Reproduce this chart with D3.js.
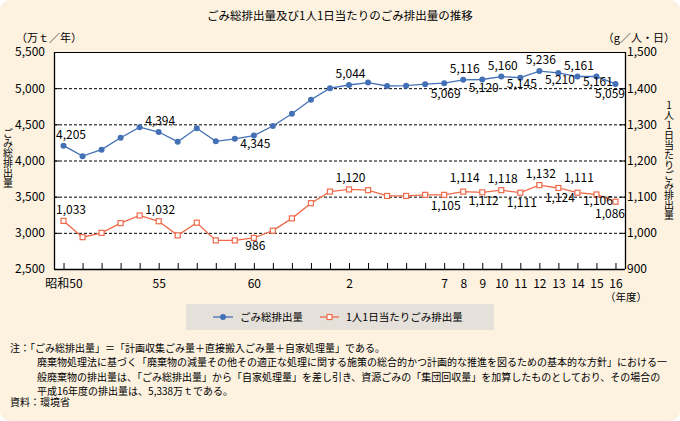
<!DOCTYPE html>
<html>
<head>
<meta charset="utf-8">
<script src="https://cdn.jsdelivr.net/npm/d3@7"></script>
<style>
  html, body { margin: 0; padding: 0; background: #ffffff; }
  svg { display: block; }
  text { font-family: 'Noto Sans CJK JP', 'Noto Sans', sans-serif; fill: #000; }
</style>
</head>
<body>
<svg id="chart" width="680" height="421"></svg>
<script>
// ---------------- data ----------------
const fiscalYears = [1975,1976,1977,1978,1979,1980,1981,1982,1983,1984,1985,1986,1987,1988,1989,
                     1990,1991,1992,1993,1994,1995,1996,1997,1998,1999,2000,2001,2002,2003,2004];
const xTickLabels = ["昭和50","","","","","55","","","","","60","","","","",
                     "2","","","","","7","8","9","10","11","12","13","14","15","16"];
// ごみ総排出量 (万t/年)
const totalWaste = [4205,4060,4150,4315,4460,4394,4260,4445,4265,4300,4345,4477,4647,4840,5000,
                    5044,5077,5030,5035,5055,5069,5116,5120,5160,5145,5236,5210,5161,5161,5059];
// 1人1日当たりごみ排出量 (g/人・日)
const perCapita = [1033,988,1000,1027,1048,1032,993,1028,979,979,986,1006,1040,1082,1114,
                   1120,1118,1102,1102,1105,1105,1114,1112,1118,1111,1132,1124,1111,1106,1086];
// labelled points: [index, "a"=above / "b"=below]
const totalLabels = [[0,"a"],[5,"a"],[10,"b"],[15,"a"],[20,"b"],[21,"a"],[22,"b"],[23,"a"],[24,"b"],[25,"a"],[26,"b"],[27,"a"],[28,"b"],[29,"b"]];
const perCapitaLabels = [[0,"a"],[5,"a"],[10,"b"],[15,"a"],[20,"b"],[21,"a"],[22,"b"],[23,"a"],[24,"b"],[25,"a"],[26,"b"],[27,"a"],[28,"b"],[29,"b"]];
const leftTicks = [2500,3000,3500,4000,4500,5000,5500];
const rightTicks = [900,1000,1100,1200,1300,1400,1500];
const seriesNames = ["ごみ総排出量","1人1日当たりごみ排出量"];
const title = "ごみ総排出量及び1人1日当たりのごみ排出量の推移";
const notes = [
  "注：「ごみ総排出量」＝「計画収集ごみ量＋直接搬入ごみ量＋自家処理量」である。",
  "廃棄物処理法に基づく「廃棄物の減量その他その適正な処理に関する施策の総合的かつ計画的な推進を図るための基本的な方針」における一",
  "般廃棄物の排出量は、「ごみ総排出量」から「自家処理量」を差し引き、資源ごみの「集団回収量」を加算したものとしており、その場合の",
  "平成16年度の排出量は、5,338万ｔである。",
  "資料：環境省"
];

// ---------------- layout ----------------
const W = 680, H = 421;
const L = 54, R = 625, T = 52, B = 269;
const BLUE = "#4471B6", RED = "#EF6A4B", BG = "#FDF2E0";
// per-label vertical nudges (layout only), keyed by point index
const totalDy = {24: 10, 26: 11, 28: 9.5, 20: 14.5, 29: 14.5};
const perDy = {20: 15, 24: 14, 26: 14, 28: 11, 29: 16, 21: -9.5, 27: -10.5};

const svg = d3.select("#chart");
svg.append("rect").attr("x",0).attr("y",0).attr("width",W).attr("height",H)
   .attr("rx",10).attr("ry",10).attr("fill",BG);

const x = d3.scalePoint().domain(fiscalYears).range([L, R]).padding(0.5);
const yL = d3.scaleLinear().domain([2500,5500]).range([B, T]);
const yR = d3.scaleLinear().domain([900,1500]).range([B, T]);

// plot background
svg.append("rect").attr("x",L).attr("y",T).attr("width",R-L).attr("height",B-T).attr("fill","#fff");

// gridlines
svg.append("g").selectAll("line").data(leftTicks.filter(v => v>2500 && v<5500)).join("line")
  .attr("x1",L).attr("x2",R).attr("y1",d=>yL(d)+0.5).attr("y2",d=>yL(d)+0.5)
  .attr("stroke","#000").attr("stroke-width",1).attr("stroke-dasharray","3,2");

// top frame
svg.append("line").attr("x1",L).attr("x2",R).attr("y1",T+0.5).attr("y2",T+0.5)
  .attr("stroke","#000").attr("stroke-width",1.2);

// axes
const fmt = d3.format(",");
const axL = svg.append("g").attr("transform",`translate(${L},0)`)
  .call(d3.axisLeft(yL).tickValues(leftTicks).tickFormat(fmt).tickSizeInner(-5).tickSizeOuter(0).tickPadding(9));
const axR = svg.append("g").attr("transform",`translate(${R},0)`)
  .call(d3.axisRight(yR).tickValues(rightTicks).tickFormat(fmt).tickSizeInner(-5).tickSizeOuter(0).tickPadding(2));
const axB = svg.append("g").attr("transform",`translate(0,${B})`)
  .call(d3.axisBottom(x).tickFormat((d,i)=>xTickLabels[i]).tickSizeInner(-6).tickSizeOuter(0).tickPadding(10));
[axL,axR,axB].forEach(g=>{
  g.select(".domain").attr("stroke","#000").attr("stroke-width",1.3);
  g.selectAll(".tick line").attr("stroke","#000").attr("stroke-width",1);
  g.selectAll("text").attr("font-size",12).attr("font-family","'Noto Sans CJK JP', sans-serif").attr("fill","#000");
});
axL.select(".domain").attr("d",`M0.5,${T}V${B}`);
axR.select(".domain").attr("d",`M0.5,${T}V${B}`);
axB.select(".domain").attr("d",`M${L},0.5H${R}`);

// series lines
const lineTotal = d3.line().x((d,i)=>x(fiscalYears[i])).y(d=>yL(d));
const linePer = d3.line().x((d,i)=>x(fiscalYears[i])).y(d=>yR(d));
svg.append("path").datum(totalWaste).attr("d",lineTotal).attr("fill","none").attr("stroke",BLUE).attr("stroke-width",1.3);
svg.append("path").datum(perCapita).attr("d",linePer).attr("fill","none").attr("stroke",RED).attr("stroke-width",1.3);

svg.append("g").selectAll("circle").data(totalWaste).join("circle")
  .attr("cx",(d,i)=>x(fiscalYears[i])).attr("cy",d=>yL(d)).attr("r",3).attr("fill",BLUE);
svg.append("g").selectAll("rect").data(perCapita).join("rect")
  .attr("x",(d,i)=>x(fiscalYears[i])-2.5).attr("y",d=>yR(d)-2.5).attr("width",5).attr("height",5)
  .attr("fill","#fff").attr("stroke",RED).attr("stroke-width",1.2);

// data labels
function addLabels(labels, values, scale, nudges){
  const g = svg.append("g");
  labels.forEach(([i,pos])=>{
    const px = x(fiscalYears[i]) + 1.5, py = scale(values[i]);
    const dy = (i in nudges) ? nudges[i] : (pos==="a" ? -7 : 12.5);
    const t = g.append("text").attr("font-size",12).attr("text-anchor","middle")
      .attr("x",px).attr("y", py+dy).text(fmt(values[i]));
    const w = t.node().getComputedTextLength();
    let cx = px;
    if (cx - w/2 < L+2) cx = L+2+w/2;
    if (cx + w/2 > R) cx = R - w/2;
    t.attr("x",cx);
  });
}
addLabels(totalLabels, totalWaste, yL, totalDy);
addLabels(perCapitaLabels, perCapita, yR, perDy);

// title and units
svg.append("text").attr("x",340).attr("y",20).attr("text-anchor","middle").attr("font-size",11.5).text(title);
svg.append("text").attr("x",16).attr("y",42).attr("font-size",11).text("（万ｔ／年）");
svg.append("text").attr("x",675).attr("y",42).attr("text-anchor","end").attr("font-size",11).text("（g／人・日）");
svg.append("text").attr("x",626).attr("y",301).attr("text-anchor","middle").attr("font-size",10.5).text("（年度）");

// vertical axis titles
svg.append("text").attr("x",8).attr("y",158).attr("text-anchor","middle").attr("font-size",10)
  .style("writing-mode","vertical-rl").style("text-orientation","upright").text(seriesNames[0]);
svg.append("text").attr("x",669).attr("y",160).attr("text-anchor","middle").attr("font-size",10)
  .style("writing-mode","vertical-rl").style("text-orientation","upright").text(seriesNames[1]);

// legend
const lg = svg.append("g");
lg.append("rect").attr("x",186).attr("y",304).attr("width",308).attr("height",26).attr("fill","#E5E0D9");
lg.append("line").attr("x1",213).attr("x2",233).attr("y1",317).attr("y2",317).attr("stroke",BLUE).attr("stroke-width",1.3);
lg.append("circle").attr("cx",223).attr("cy",317).attr("r",3).attr("fill",BLUE);
lg.append("text").attr("x",240).attr("y",321).attr("font-size",10.5).text(seriesNames[0]);
lg.append("line").attr("x1",320).attr("x2",339).attr("y1",317).attr("y2",317).attr("stroke",RED).attr("stroke-width",1.3);
lg.append("rect").attr("x",327).attr("y",314.5).attr("width",5).attr("height",5).attr("fill","#fff").attr("stroke",RED).attr("stroke-width",1.2);
lg.append("text").attr("x",346).attr("y",321).attr("font-size",10.5).text(seriesNames[1]);

// notes
const noteX = [10,37,37,37,10];
const noteY = [352,366,381,395,406];
svg.append("g").selectAll("text").data(notes).join("text")
  .attr("x",(d,i)=>noteX[i]).attr("y",(d,i)=>noteY[i]).attr("font-size",10).text(d=>d);
</script>
</body>
</html>
